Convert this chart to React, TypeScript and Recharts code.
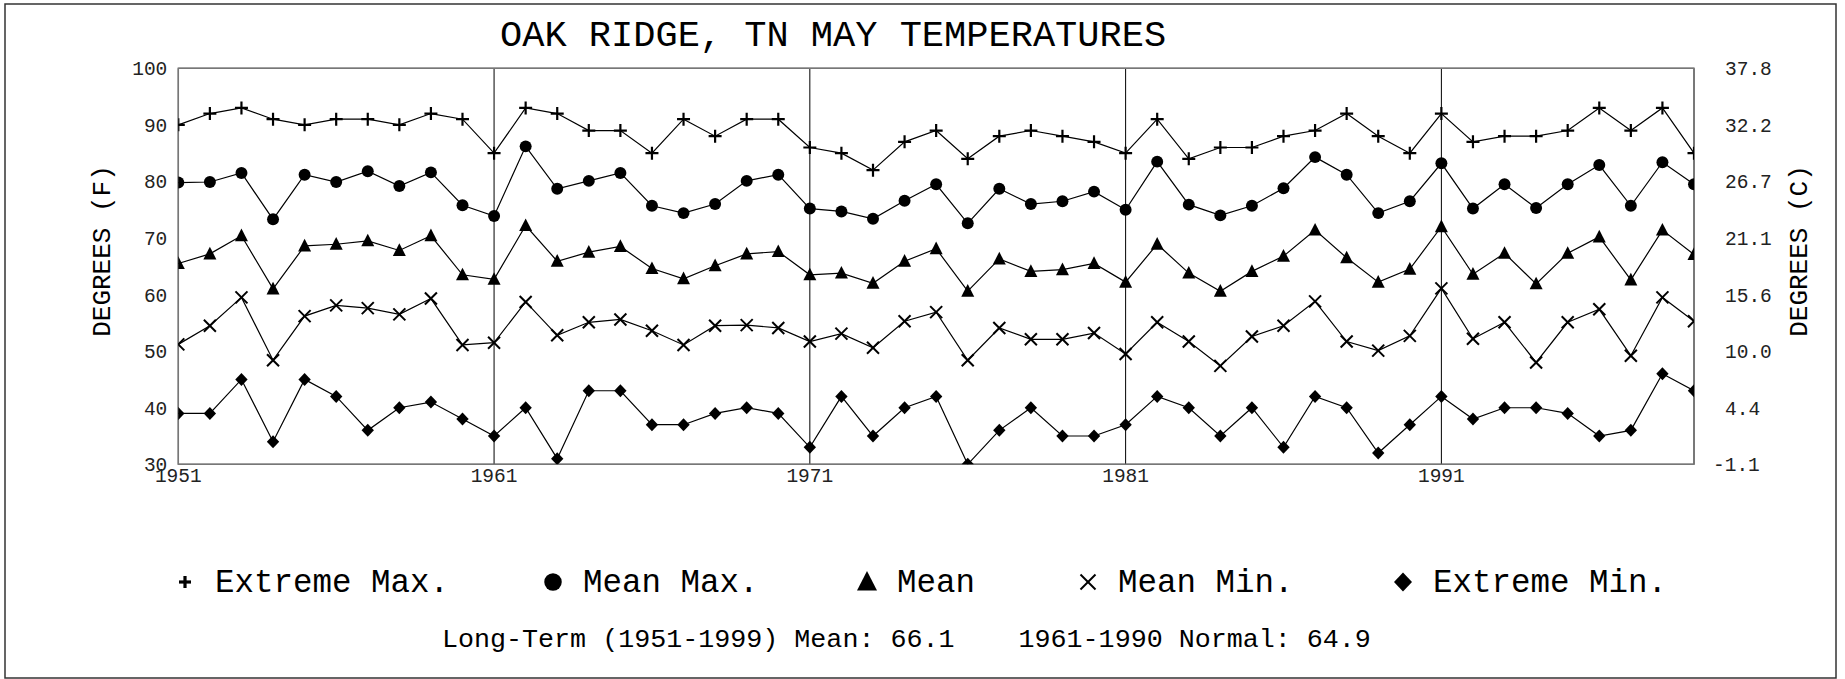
import React from "react";
import {
  CartesianGrid,
  Legend,
  Line,
  LineChart,
  ReferenceArea,
  XAxis,
  YAxis,
} from "recharts";

const years = [
  1951, 1952, 1953, 1954, 1955, 1956, 1957, 1958, 1959, 1960,
  1961, 1962, 1963, 1964, 1965, 1966, 1967, 1968, 1969, 1970,
  1971, 1972, 1973, 1974, 1975, 1976, 1977, 1978, 1979, 1980,
  1981, 1982, 1983, 1984, 1985, 1986, 1987, 1988, 1989, 1990,
  1991, 1992, 1993, 1994, 1995, 1996, 1997, 1998, 1999,
];

const extremeMax = [
  90, 92, 93, 91, 90, 91, 91, 90, 92, 91,
  85, 93, 92, 89, 89, 85, 91, 88, 91, 91,
  86, 85, 82, 87, 89, 84, 88, 89, 88, 87,
  85, 91, 84, 86, 86, 88, 89, 92, 88, 85,
  92, 87, 88, 88, 89, 93, 89, 93, 85,
];

const meanMax = [
  79.8, 79.9, 81.5, 73.3, 81.2, 79.9, 81.8, 79.2, 81.6, 75.8,
  73.9, 86.2, 78.7, 80.1, 81.5, 75.7, 74.4, 76.0, 80.1, 81.2,
  75.2, 74.7, 73.4, 76.6, 79.5, 72.6, 78.7, 76.0, 76.5, 78.2,
  75.0, 83.5, 75.9, 74.0, 75.7, 78.8, 84.3, 81.2, 74.4, 76.5,
  83.2, 75.2, 79.5, 75.3, 79.5, 82.9, 75.7, 83.4, 79.5,
];

const mean = [
  65.5, 67.2, 70.4, 61.0, 68.6, 68.9, 69.5, 67.8, 70.4, 63.5,
  62.7, 72.2, 65.9, 67.5, 68.5, 64.6, 62.8, 65.1, 67.2, 67.6,
  63.5, 63.8, 62.0, 65.9, 68.1, 60.6, 66.3, 64.1, 64.4, 65.5,
  62.2, 68.9, 63.8, 60.6, 64.1, 66.8, 71.4, 66.5, 62.2, 64.5,
  72.0, 63.6, 67.3, 61.9, 67.3, 70.2, 62.6, 71.4, 67.1,
];

const meanMin = [
  51.2, 54.5, 59.5, 48.4, 56.2, 58.1, 57.6, 56.5, 59.3, 51.1,
  51.5, 58.7, 52.8, 55.1, 55.6, 53.6, 51.1, 54.5, 54.6, 54.1,
  51.7, 53.1, 50.6, 55.3, 56.9, 48.4, 54.1, 52.1, 52.1, 53.2,
  49.5, 55.1, 51.7, 47.4, 52.6, 54.5, 58.8, 51.7, 50.1, 52.7,
  61.1, 52.2, 55.1, 48.0, 55.1, 57.4, 49.2, 59.5, 55.3,
];

const extremeMin = [
  39, 39, 45, 34, 45, 42, 36, 40, 41, 38,
  35, 40, 31, 43, 43, 37, 37, 39, 40, 39,
  33, 42, 35, 40, 42, 30, 36, 40, 35, 35,
  37, 42, 40, 35, 40, 33, 42, 40, 32, 37,
  42, 38, 40, 40, 39, 35, 36, 46, 43,
];

const yearTicks = [1951, 1961, 1971, 1981, 1991];
const fahrenheitTicks = [30, 40, 50, 60, 70, 80, 90, 100];
const celsiusTicks = ["-1.1", "4.4", "10.0", "15.6", "21.1", "26.7", "32.2", "37.8"];

const seriesNames = ["Extreme Max.", "Mean Max.", "Mean", "Mean Min.", "Extreme Min."];

const data = years.map((year, i) => ({
  year,
  extremeMax: extremeMax[i],
  meanMax: meanMax[i],
  mean: mean[i],
  meanMin: meanMin[i],
  extremeMin: extremeMin[i],
}));

const FONT = "'Liberation Mono', 'DejaVu Sans Mono', monospace";

// marker shapes, shared by the lines and the legend
const drawShape = (shape: string, cx: number, cy: number, s: number, key?: string, w = 2.2) => {
  switch (shape) {
    case "plus":
      return (
        <g key={key}>
          <line x1={cx - s} y1={cy} x2={cx + s} y2={cy} stroke="#000" strokeWidth={w} />
          <line x1={cx} y1={cy - s} x2={cx} y2={cy + s} stroke="#000" strokeWidth={w} />
        </g>
      );
    case "circle":
      return <circle key={key} cx={cx} cy={cy} r={s * 0.92} fill="#000" />;
    case "triangle":
      return (
        <polygon
          key={key}
          points={`${cx},${cy - s * 1.1} ${cx - s},${cy + s * 0.85} ${cx + s},${cy + s * 0.85}`}
          fill="#000"
        />
      );
    case "cross":
      return (
        <g key={key}>
          <line x1={cx - s} y1={cy - s} x2={cx + s} y2={cy + s} stroke="#000" strokeWidth={2} />
          <line x1={cx - s} y1={cy + s} x2={cx + s} y2={cy - s} stroke="#000" strokeWidth={2} />
        </g>
      );
    default:
      return (
        <polygon
          key={key}
          points={`${cx},${cy - s} ${cx + s * 0.95},${cy} ${cx},${cy + s} ${cx - s * 0.95},${cy}`}
          fill="#000"
        />
      );
  }
};

const makeDot = (shape: string, size: number) => (props: any) =>
  drawShape(shape, props.cx, props.cy, size, `${shape}-${props.index}`);

const series = [
  { key: "extremeMax", shape: "plus", size: 6.5 },
  { key: "meanMax", shape: "circle", size: 6.5 },
  { key: "mean", shape: "triangle", size: 6.5 },
  { key: "meanMin", shape: "cross", size: 6 },
  { key: "extremeMin", shape: "diamond", size: 6.5 },
];

const CelsiusTick = (props: any) => {
  const idx = fahrenheitTicks.indexOf(props.payload.value);
  const label = celsiusTicks[idx];
  const neg = label.startsWith("-");
  return (
    <text
      x={1725 - (neg ? 12 : 0)}
      y={props.y}
      dy="0.355em"
      fontFamily={FONT}
      fontSize={19.5}
      fill="#222"
    >
      {label}
    </text>
  );
};

const renderLegend = () => {
  const markerX = [185, 553, 867, 1088, 1403];
  const legendShapes = [
    { shape: "plus", size: 6 },
    { shape: "circle", size: 9.5 },
    { shape: "triangle", size: 10 },
    { shape: "cross", size: 7.5 },
    { shape: "diamond", size: 9.5 },
  ];
  return (
    <svg width={1845} height={60}>
      {seriesNames.map((name, i) => (
        <g key={name}>
          {drawShape(legendShapes[i].shape, markerX[i], 27, legendShapes[i].size, undefined, 3.2)}
          <text x={markerX[i] + 30} y={37} fontFamily={FONT} fontSize={32.5} fill="#000">
            {name}
          </text>
        </g>
      ))}
    </svg>
  );
};

export default function App() {
  return (
    <div style={{ position: "absolute", left: 0, top: 0, width: 1845, height: 679, background: "#fff" }}>
      <LineChart
        width={1845}
        height={679}
        data={data}
        margin={{ top: 68.3, right: 0, bottom: 184.7, left: 0 }}
      >
        <CartesianGrid stroke="#000" strokeWidth={1} />
        <XAxis
          dataKey="year"
          type="number"
          domain={[1951, 1999]}
          ticks={yearTicks}
          allowDataOverflow
          axisLine={false}
          tickLine={false}
          tickSize={0}
          tickMargin={4}
          height={30}
          tick={{ fontFamily: FONT, fontSize: 19.5, fill: "#222" }}
        />
        <YAxis
          yAxisId="f"
          domain={[30, 100]}
          ticks={fahrenheitTicks}
          allowDataOverflow
          axisLine={false}
          tickLine={false}
          tickSize={0}
          tickMargin={11}
          width={178.3}
          tick={{ fontFamily: FONT, fontSize: 19.5, fill: "#222" }}
        />
        <YAxis
          yAxisId="c"
          orientation="right"
          domain={[30, 100]}
          ticks={fahrenheitTicks}
          allowDataOverflow
          axisLine={false}
          tickLine={false}
          tickSize={0}
          tickMargin={0}
          width={151}
          tick={<CelsiusTick />}
        />
        {series.map((s, i) => (
          <Line
            key={s.key}
            yAxisId="f"
            dataKey={s.key}
            name={seriesNames[i]}
            stroke="#000"
            strokeWidth={1.2}
            dot={makeDot(s.shape, s.size)}
            activeDot={false}
            isAnimationActive={false}
          />
        ))}
        <ReferenceArea
          yAxisId="f"
          x1={1951}
          x2={1999}
          y1={30}
          y2={100}
          fill="none"
          fillOpacity={0}
          stroke="#777"
          strokeWidth={1.5}
          ifOverflow="visible"
        />
        <Legend
          verticalAlign="middle"
          layout="horizontal"
          content={renderLegend}
          wrapperStyle={{ position: "absolute", left: 0, top: 555, width: 1845, height: 60 }}
        />
      </LineChart>
      <svg
        width={1845}
        height={679}
        style={{ position: "absolute", left: 0, top: 0, pointerEvents: "none" }}
      >
        <rect x={5} y={4} width={1831} height={674} fill="none" stroke="#333" strokeWidth={1.5} />
        <text x={500} y={46} fontFamily={FONT} fontSize={37} fill="#000">
          OAK RIDGE, TN MAY TEMPERATURES
        </text>
        <text
          transform="translate(110,251) rotate(-90)"
          textAnchor="middle"
          fontFamily={FONT}
          fontSize={26}
          fill="#000"
        >
          DEGREES (F)
        </text>
        <text
          transform="translate(1807,251) rotate(-90)"
          textAnchor="middle"
          fontFamily={FONT}
          fontSize={26}
          fill="#000"
        >
          DEGREES (C)
        </text>
        <text x={442} y={647} fontFamily={FONT} fontSize={26.7} fill="#000" style={{ whiteSpace: "pre" }}>
          {"Long-Term (1951-1999) Mean: 66.1    1961-1990 Normal: 64.9"}
        </text>
      </svg>
    </div>
  );
}
